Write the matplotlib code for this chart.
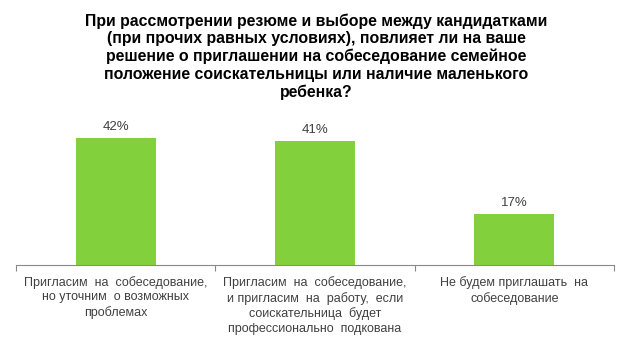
import matplotlib
matplotlib.use("Agg")
import matplotlib.pyplot as plt
import numpy as np

plt.rcParams["font.family"] = ["Liberation Sans", "DejaVu Sans"]

title = ("При рассмотрении резюме и выборе между кандидатками\n"
         "(при прочих равных условиях), повлияет ли на ваше\n"
         "решение о приглашении на собеседование семейное\n"
         "положение соискательницы или наличие маленького\n"
         "ребенка?")
categories = [
    "Пригласим  на  собеседование,\nно уточним  о возможных\nпроблемах",
    "Пригласим  на  собеседование,\nи пригласим  на  работу,  если\nсоискательница  будет\nпрофессионально  подкована",
    "Не будем приглашать  на\nсобеседование",
]
values = [42, 41, 17]

fig = plt.figure(figsize=(6.28, 3.52), dpi=100)
# plot area: x 16..614 px, baseline at y=265 px
ax = fig.add_axes([16 / 628, 87 / 352, 598 / 628, 151 / 352])

x = np.arange(len(values))
ax.bar(x, values, width=0.40, color="#82D13C")
ax.set_xlim(-0.5, len(values) - 0.5)
ax.set_ylim(0, 50)

for xi, v in zip(x, values):
    ax.annotate(f"{v}%", (xi, v), xytext=(0, 5.8), textcoords="offset points",
                ha="center", va="baseline", fontsize=9.5, color="#404040")

for s in ["top", "right", "left"]:
    ax.spines[s].set_visible(False)
ax.spines["bottom"].set_color("#898989")
ax.set_yticks([])
ax.set_xticks(np.arange(len(values) + 1) - 0.5)
ax.set_xticklabels([])
ax.tick_params(axis="x", length=4, color="#898989")

for xi, lab in zip(x, categories):
    ax.text(xi, -11 / 151, lab, transform=ax.get_xaxis_transform(), ha="center",
            va="top", fontsize=9, color="#404040", linespacing=1.27)

# va="baseline" anchors the last line here
fig.text(316.5 / 628, 1 - 97 / 352, title, ha="center", va="baseline", fontsize=11.4,
         fontweight="bold", color="black", linespacing=1.21)

fig.savefig("out.png", dpi=100)
